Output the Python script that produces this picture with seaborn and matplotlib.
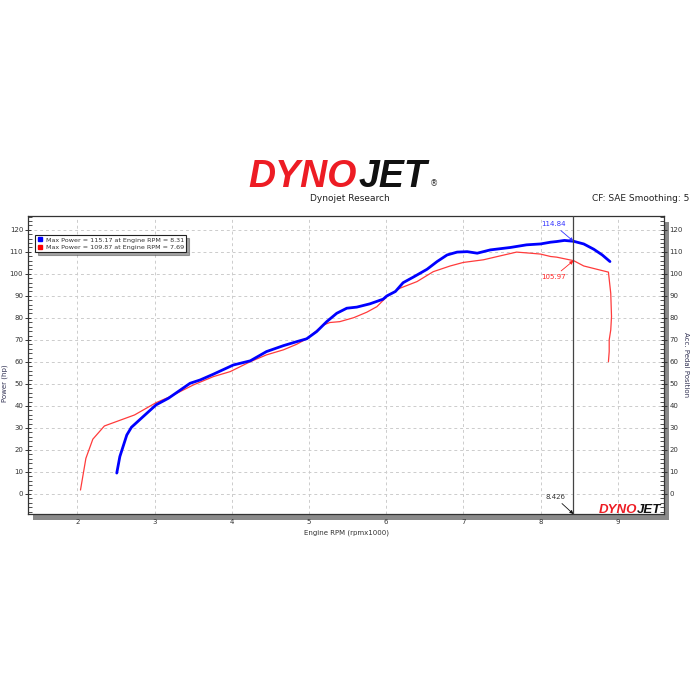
import matplotlib
matplotlib.use("Agg")
import matplotlib.pyplot as plt
import seaborn as sns
import pandas as pd
from matplotlib.lines import Line2D
from matplotlib.patches import Rectangle
from matplotlib.ticker import MultipleLocator

# ---- data ----
rpm_a = [2.51, 2.55, 2.64, 2.70, 2.85, 3.02, 3.18, 3.46, 3.59, 3.76, 4.02, 4.24, 4.45, 4.67,
         4.84, 4.97, 5.10, 5.23, 5.36, 5.49, 5.62, 5.79, 5.96, 6.01, 6.12, 6.22, 6.35, 6.53,
         6.66, 6.79, 6.92, 7.05, 7.18, 7.35, 7.61, 7.82, 8.00, 8.13, 8.21, 8.31, 8.43, 8.56,
         8.69, 8.80, 8.90]
power_a = [9.5, 17, 26.8, 30.3, 35.1, 40.5, 43.5, 50.3, 51.8, 54.4, 58.6, 60.5, 64.7, 67.4,
           69.2, 70.5, 73.8, 78.3, 82.1, 84.4, 84.9, 86.4, 88.5, 90.0, 92.0, 96.0, 98.5, 102.1,
           105.6, 108.6, 109.9, 110.1, 109.4, 110.9, 112.0, 113.2, 113.6, 114.4, 114.7, 115.2,
           114.8, 113.6, 111.2, 108.6, 105.6]

rpm_b = [2.04, 2.11, 2.20, 2.35, 2.74, 3.02, 3.20, 3.50, 3.76, 3.98, 4.24, 4.45, 4.67, 4.84,
         4.97, 5.19, 5.27, 5.40, 5.58, 5.75, 5.88, 6.01, 6.18, 6.40, 6.61, 6.83, 7.00, 7.26,
         7.48, 7.69, 7.87, 8.00, 8.13, 8.21, 8.43, 8.56, 8.73, 8.88, 8.91, 8.92, 8.91, 8.89,
         8.89, 8.88]
power_b = [1.8, 16.2, 24.9, 30.9, 35.9, 41.5, 44.2, 49.5, 53.3, 55.6, 60.1, 63.2, 65.5, 68.0,
           70.5, 76.8, 77.9, 78.3, 80.1, 82.6, 85.1, 89.7, 93.5, 96.5, 101.0, 103.6, 105.2, 106.4,
           108.2, 109.9, 109.4, 109.0, 107.9, 107.6, 106.0, 103.6, 102.1, 100.8, 91.2, 80.6, 74.5,
           70.0, 64.7, 60.1]

legend_labels = ["Max Power = 115.17 at Engine RPM = 8.31",
                 "Max Power = 109.87 at Engine RPM = 7.69"]
cursor_rpm = 8.426
cursor_vals = [114.84, 105.97]
x_ticks = [2, 3, 4, 5, 6, 7, 8, 9]
y_ticks = list(range(0, 121, 10))

BLUE = "#0000ff"
RED = "#ff3b3b"

sns.set_style("white")
plt.rcParams['font.family'] = ['DejaVu Sans']

fig = plt.figure(figsize=(7, 7), dpi=100)
L, B, W, H = 28/700, 1-514/700, (664-28)/700, (514-216)/700
ax = fig.add_axes([L, B, W, H])
ax.set_facecolor("white")

# shadow behind axes
fig.add_artist(Rectangle((L+5/700, B-6/700), W, H, transform=fig.transFigure,
                         facecolor="#8a8a8a", edgecolor="none", zorder=-1))

df_a = pd.DataFrame({"rpm": rpm_a, "power": power_a})
df_b = pd.DataFrame({"rpm": rpm_b, "power": power_b})
sns.lineplot(data=df_b, x="rpm", y="power", sort=False, estimator=None, ax=ax,
             color=RED, linewidth=0.9, legend=False, zorder=3)
sns.lineplot(data=df_a, x="rpm", y="power", sort=False, estimator=None, ax=ax,
             color=BLUE, linewidth=2.0, legend=False, zorder=4)

ax.set_xlim(1.36, 9.6)
ax.set_ylim(-9.1, 126.3)
ax.set_xticks(x_ticks)
ax.set_yticks(y_ticks)
ax.xaxis.set_minor_locator(MultipleLocator(0.2))
ax.yaxis.set_minor_locator(MultipleLocator(2))
ax.grid(True, which="major", color="#cccccc", linestyle=(0, (3, 3)), linewidth=0.7)
for s in ax.spines.values():
    s.set_color("#333333")
    s.set_linewidth(0.9)

ax.tick_params(axis="both", which="major", labelsize=5, length=4, width=0.7,
               direction="inout", color="#333333", labelcolor="#333333", pad=1.5)
ax.tick_params(axis="both", which="minor", length=3, width=0.6, direction="in",
               color="#333333")
ax.set_xlabel("Engine RPM (rpmx1000)", fontsize=5, color="#333333", labelpad=3)
ax.set_ylabel("Power (hp)", fontsize=5, color="#333355")
ax.yaxis.set_label_coords(-0.031, 0.44)

# right axis
ax2 = ax.twinx()
ax2.set_ylim(ax.get_ylim())
ax2.set_yticks(y_ticks)
ax2.yaxis.set_minor_locator(MultipleLocator(2))
ax2.tick_params(axis="y", which="major", labelsize=5, length=4, width=0.7,
                direction="inout", color="#333333", labelcolor="#333333", pad=2)
ax2.tick_params(axis="y", which="minor", length=3, width=0.6, direction="in", color="#333333")
ax2.set_ylabel("Acc. Pedal Position", fontsize=5, color="#333355", rotation=270)
ax2.yaxis.set_label_coords(1.040, 0.5)
for s in ax2.spines.values():
    s.set_visible(False)

# cursor line and annotations
ax.axvline(cursor_rpm, color="#444444", linewidth=0.9, zorder=5)
ax.annotate(f"{cursor_vals[0]:.2f}", xy=(cursor_rpm, cursor_vals[0]),
            xytext=(8.01, 122.5), fontsize=5, color="#3333ff", ha="left", va="center",
            arrowprops=dict(arrowstyle="-|>", color="#3333ff", lw=0.6, mutation_scale=5,
                            shrinkA=0, shrinkB=0), zorder=6)
ax.annotate(f"{cursor_vals[1]:.2f}", xy=(cursor_rpm, cursor_vals[1]),
            xytext=(8.01, 98.5), fontsize=5, color="#ff2222", ha="left", va="center",
            arrowprops=dict(arrowstyle="-|>", color="#ff2222", lw=0.6, mutation_scale=5,
                            shrinkA=0, shrinkB=0), zorder=6)
ax.annotate(f"{cursor_rpm:.3f}", xy=(cursor_rpm, -9.1),
            xytext=(8.06, -1.5), fontsize=5, color="#333333", ha="left", va="center",
            arrowprops=dict(arrowstyle="-|>", color="#111111", lw=0.6, mutation_scale=5,
                            shrinkA=0, shrinkB=0), zorder=6)

# legend
handles = [Line2D([], [], marker="s", color="none", markerfacecolor=BLUE,
                  markeredgecolor=BLUE, markersize=3.5),
           Line2D([], [], marker="s", color="none", markerfacecolor="#ff0000",
                  markeredgecolor="#ff0000", markersize=3.5)]
leg = ax.legend(handles, legend_labels, loc="upper left",
                bbox_to_anchor=((35-28)/636, (514-235)/298), fontsize=4.6,
                frameon=True, fancybox=False, shadow=True, edgecolor="#222222",
                handletextpad=0.3, borderpad=0.35, labelspacing=0.25, handlelength=1.0,
                borderaxespad=0)
leg.get_frame().set_linewidth(0.8)
for t in leg.get_texts():
    t.set_color("#333333")

# header texts
logo_font = ["Liberation Sans", "DejaVu Sans"]
fig.text(357/700, 1-187/700, "DYNO", fontsize=27, fontweight="bold", style="italic",
         color="#ed1c24", ha="right", va="baseline", family=logo_font)
fig.text(359/700, 1-187/700, "JET", fontsize=27, fontweight="bold", style="italic",
         color="#111111", ha="left", va="baseline", family=logo_font)
fig.text(434/700, 1-184/700, "®", fontsize=6, color="#333333", ha="center", va="center")
fig.text(350/700, 1-198.5/700, "Dynojet Research", fontsize=6.5, color="#222222",
         ha="center", va="center")
fig.text(689/700, 1-198.5/700, "CF: SAE Smoothing: 5", fontsize=6.5, color="#222222",
         ha="right", va="center")

# small logo inside plot
fig.text(637/700, 1-513/700, "DYNO", fontsize=9.5, fontweight="bold", style="italic",
         color="#ed1c24", ha="right", va="baseline", family=logo_font, zorder=10)
fig.text(637/700, 1-513/700, "JET", fontsize=9.5, fontweight="bold", style="italic",
         color="#111111", ha="left", va="baseline", family=logo_font, zorder=10)

fig.savefig("out.png", dpi=100, facecolor="white")
